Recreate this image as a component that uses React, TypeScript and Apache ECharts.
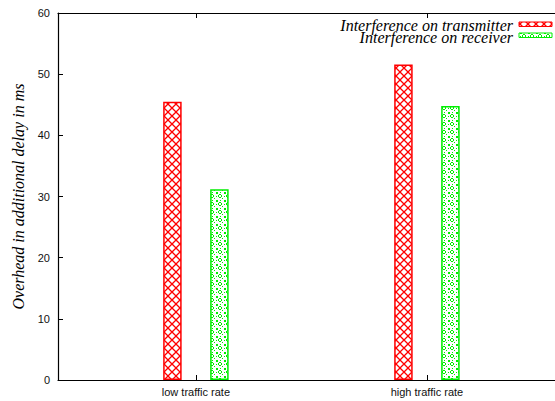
import React, { useEffect, useRef } from "react";
import * as echarts from "echarts";

const categories = ["low traffic rate", "high traffic rate"];
const seriesNames = ["Interference on transmitter", "Interference on receiver"];
const transmitter = [45.5, 51.6];
const receiver = [31.2, 44.8];
const yTicks = [0, 10, 20, 30, 40, 50, 60];

function makePattern(kind: "cross" | "dots") {
  const c = document.createElement("canvas");
  const s = 8;
  c.width = s;
  c.height = s;
  const ctx = c.getContext("2d")!;
  ctx.fillStyle = "#ffffff";
  ctx.fillRect(0, 0, s, s);
  if (kind === "cross") {
    ctx.strokeStyle = "#ff0000";
    ctx.lineWidth = 1.3;
    ctx.beginPath();
    ctx.moveTo(0, 0);
    ctx.lineTo(s, s);
    ctx.moveTo(s, 0);
    ctx.lineTo(0, s);
    ctx.stroke();
  } else {
    ctx.fillStyle = "#00ee00";
    ctx.fillRect(0, 0, 2, 2);
    ctx.fillRect(3, 2, 2, 1);
    ctx.fillRect(3, 5, 2, 1);
    ctx.fillRect(2, 3, 1, 2);
    ctx.fillRect(5, 3, 1, 2);
    ctx.fillRect(6, 6, 1, 1);
    ctx.fillRect(0, 4, 1, 1);
    ctx.fillRect(4, 0, 1, 1);
  }
  return { image: c, repeat: "repeat", imageWidth: s, imageHeight: s } as any;
}

export default function App() {
  const ref = useRef<HTMLDivElement>(null);
  useEffect(() => {
    if (!ref.current) return;
    document.body.style.margin = "0";
    document.body.style.overflow = "hidden";
    const chart = echarts.init(ref.current, undefined, { renderer: "svg" });
    const redPat = makePattern("cross");
    const greenPat = makePattern("dots");
    const colors = ["#ff0000", "#00ee00"];
    const pats = [redPat, greenPat];
    const values = [transmitter, receiver];
    const labelFont = { fontFamily: "Liberation Sans", fontSize: 11, color: "#111" };
    chart.setOption({
      animation: false,
      grid: { left: 58, right: -11, top: 13, bottom: 21, outerBoundsMode: "none", containLabel: false },
      xAxis: [
        {
          type: "value",
          min: 0.403,
          max: 2.602,
          position: "bottom",
          axisLine: { show: true, onZero: false, lineStyle: { color: "#000", width: 1.2 } },
          axisTick: { show: true, inside: true, length: 5, customValues: [1, 2], lineStyle: { color: "#000" } },
          axisLabel: {
            ...labelFont,
            margin: 6,
            customValues: [1, 2],
            formatter: (v: number) => categories[Math.round(v) - 1] ?? "",
          },
          splitLine: { show: false },
        },
        {
          type: "value",
          min: 0.403,
          max: 2.602,
          position: "top",
          axisLine: { show: true, onZero: false, lineStyle: { color: "#000", width: 1.2 } },
          axisTick: { show: true, inside: true, length: 5, customValues: [1, 2], lineStyle: { color: "#000" } },
          axisLabel: { show: false },
          splitLine: { show: false },
        },
      ],
      yAxis: {
        type: "value",
        min: 0,
        max: 60,
        interval: 10,
        name: "Overhead in additional delay in ms",
        nameLocation: "middle",
        nameGap: 25,
        nameTextStyle: { fontFamily: "Liberation Serif", fontStyle: "italic", fontSize: 16, color: "#000" },
        axisLine: { show: true, lineStyle: { color: "#000", width: 1.2 } },
        axisTick: { show: true, inside: true, length: 5, lineStyle: { color: "#000" } },
        axisLabel: { ...labelFont, margin: 8, formatter: (v: number) => (yTicks.includes(v) ? String(v) : "") },
        splitLine: { show: false },
      },
      series: seriesNames.map((name, si) => ({
        name,
        type: "bar",
        xAxisIndex: 0,
        barWidth: 18.5,
        barGap: "154%",
        data: categories.map((_, i) => [i + 1, values[si][i]]),
        itemStyle: { color: pats[si], borderColor: colors[si], borderWidth: 1.5 },
      })),
      graphic: seriesNames.flatMap((name, si) => [
        {
          type: "text",
          right: 42,
          top: 17 + si * 12,
          style: {
            text: name,
            fontFamily: "Liberation Serif",
            fontStyle: "italic",
            fontSize: 16,
            lineHeight: 11,
            fill: "#000",
          },
        },
        {
          type: "rect",
          shape: { x: 519, y: 22 + si * 11, width: 33, height: 4.5 },
          style: { fill: pats[si], stroke: colors[si], lineWidth: 1 },
        },
      ]),
    });
    return () => chart.dispose();
  }, []);
  return (
    <div
      ref={ref}
      style={{ position: "absolute", left: 0, top: 0, width: 555, height: 401 }}
    />
  );
}
